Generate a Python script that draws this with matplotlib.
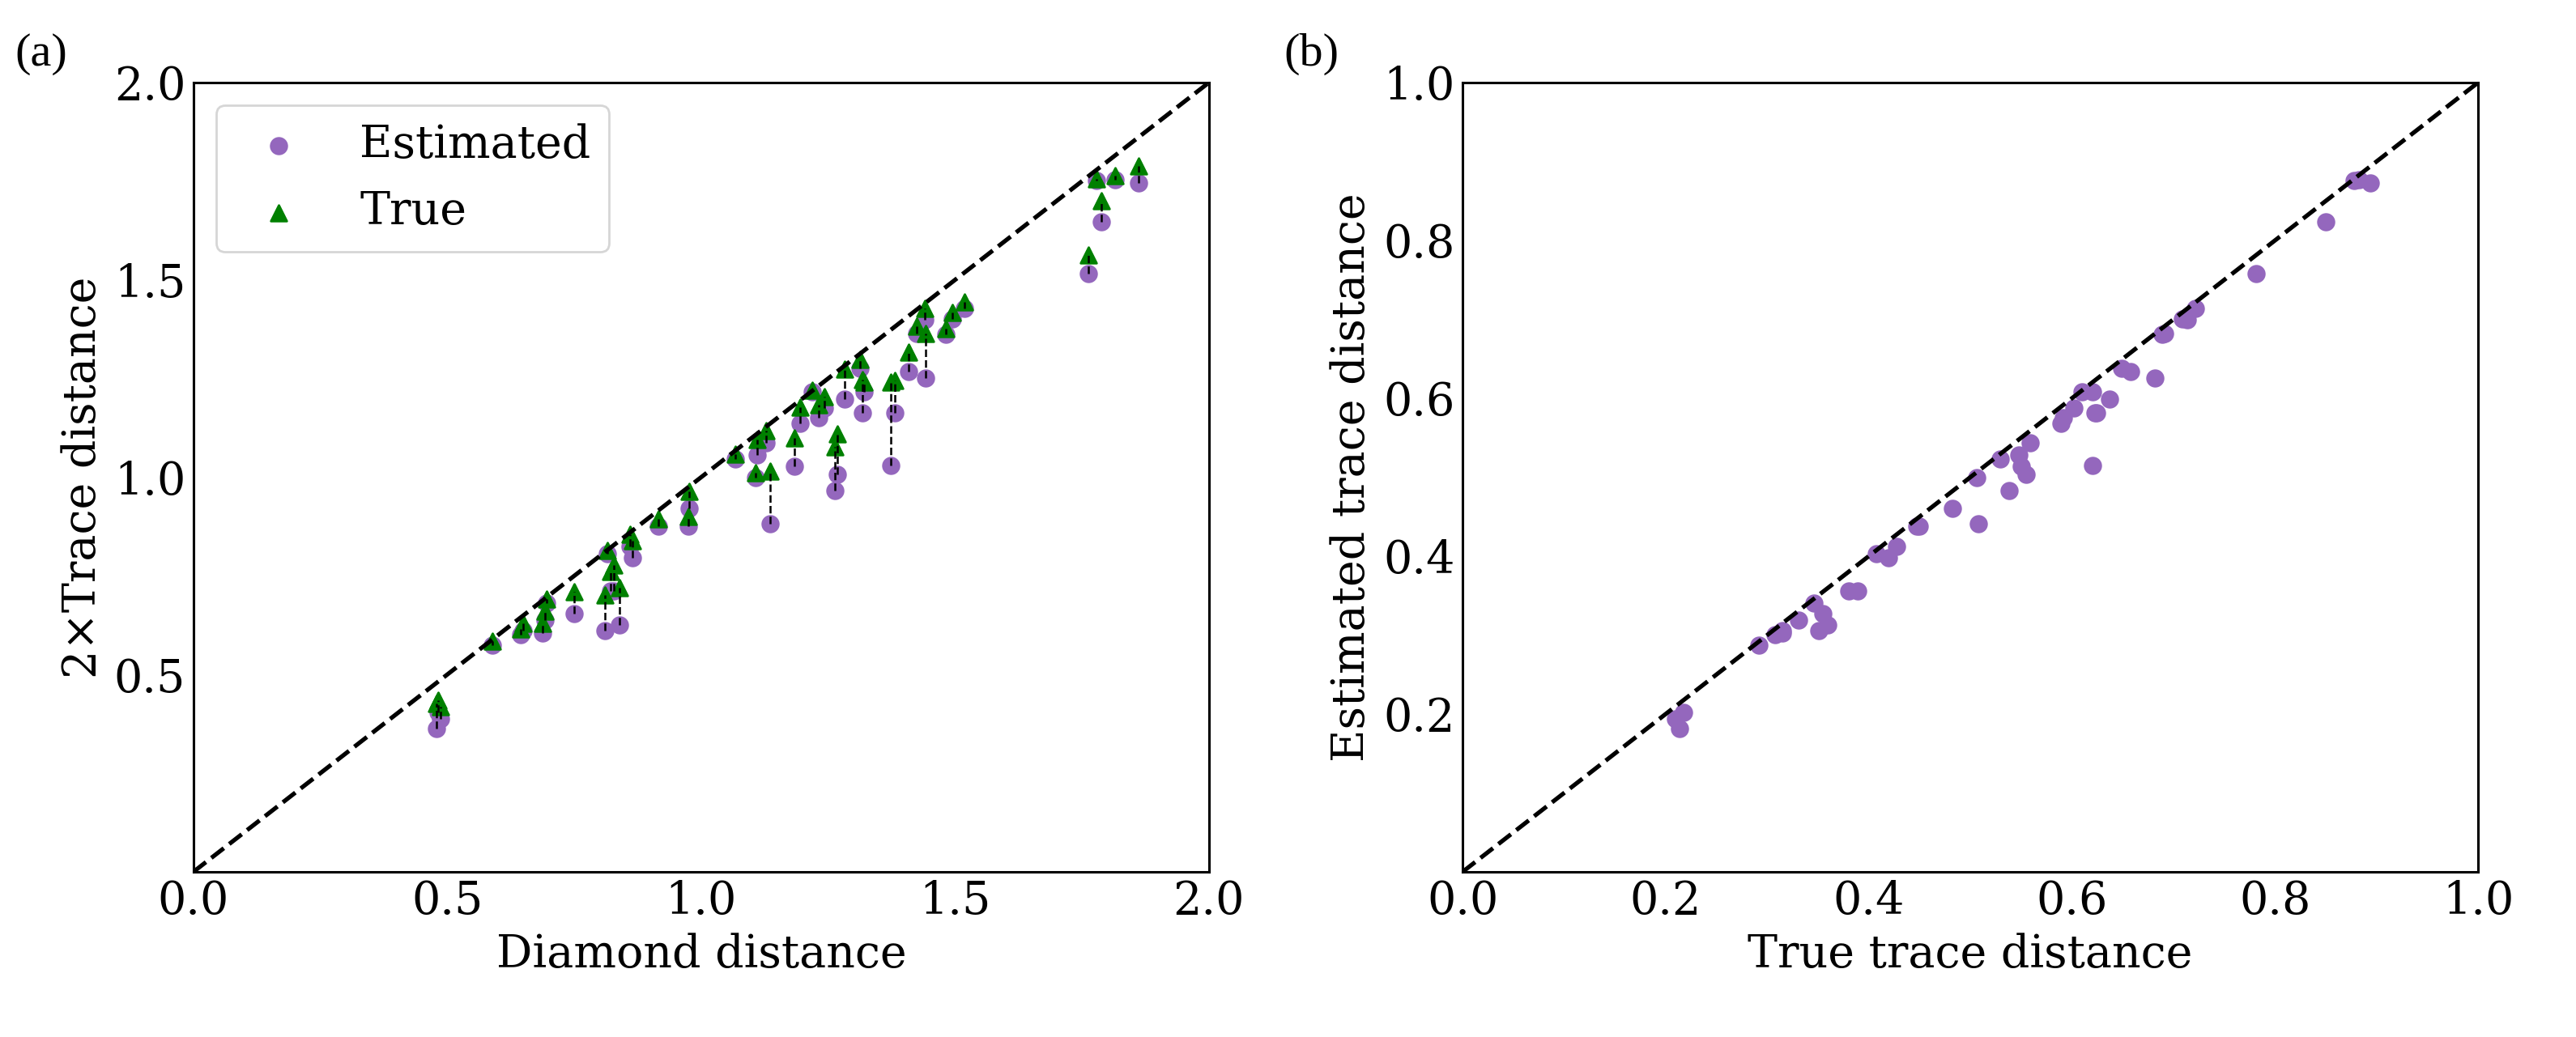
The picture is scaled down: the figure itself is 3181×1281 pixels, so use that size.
import matplotlib
matplotlib.use("Agg")
import matplotlib.pyplot as plt
import numpy as np

plt.rcParams["font.family"] = ["DejaVu Serif"]
plt.rcParams["font.size"] = 20

# diamond distance and 2x trace distance (true / estimated) per channel pair
diamond = [0.478, 0.482, 0.486, 0.589, 0.645, 0.650, 0.688, 0.692, 0.695, 0.750,
           0.811, 0.839, 0.822, 0.828, 0.815, 0.864, 0.860, 0.916, 0.974, 0.977,
           1.067, 1.110, 1.107, 1.128, 1.136, 1.184, 1.195, 1.219, 1.231, 1.242,
           1.264, 1.268, 1.282, 1.313, 1.317, 1.320, 1.374, 1.382, 1.409, 1.424,
           1.442, 1.440, 1.482, 1.495, 1.518, 1.763, 1.778, 1.788, 1.816, 1.862]
true2 = [0.427, 0.435, 0.419, 0.584, 0.616, 0.629, 0.630, 0.661, 0.692, 0.710,
         0.702, 0.719, 0.760, 0.778, 0.815, 0.838, 0.855, 0.895, 0.900, 0.965,
         1.058, 1.095, 1.012, 1.118, 1.015, 1.100, 1.178, 1.220, 1.183, 1.204,
         1.077, 1.110, 1.274, 1.298, 1.248, 1.240, 1.240, 1.245, 1.316, 1.382,
         1.364, 1.428, 1.377, 1.418, 1.443, 1.562, 1.756, 1.700, 1.765, 1.788]
est2 = [0.363, 0.404, 0.387, 0.575, 0.600, 0.612, 0.605, 0.638, 0.680, 0.655,
        0.612, 0.626, 0.711, 0.711, 0.807, 0.796, 0.825, 0.876, 0.876, 0.921,
        1.047, 1.057, 0.998, 1.087, 0.882, 1.028, 1.136, 1.216, 1.150, 1.176,
        0.967, 1.008, 1.197, 1.276, 1.164, 1.216, 1.030, 1.164, 1.268, 1.364,
        1.252, 1.399, 1.361, 1.401, 1.427, 1.515, 1.752, 1.647, 1.753, 1.745]

a_ticks_x = [0.0, 0.5, 1.0, 1.5, 2.0]
a_ticks_y = [0.5, 1.0, 1.5, 2.0]
b_ticks_x = [0.0, 0.2, 0.4, 0.6, 0.8, 1.0]
b_ticks_y = [0.2, 0.4, 0.6, 0.8, 1.0]

diamond = np.array(diamond)
true2 = np.array(true2)
est2 = np.array(est2)

fig = plt.figure(figsize=(15.905, 6.405), dpi=200)
ax1 = fig.add_axes([0.0751, 0.1593, 0.3942, 0.7611])
ax2 = fig.add_axes([0.5678, 0.1593, 0.3942, 0.7611])

# (a) diamond distance vs 2x trace distance
ax1.scatter(diamond, est2, s=50, color="tab:purple", label="Estimated")
ax1.scatter(diamond, true2, s=50, marker="^", color="green", label="True")
ax1.vlines(diamond, est2, true2, colors="k", linestyles="dashed", linewidth=0.9)
ax1.plot([0, 2], [0, 2], "k--", linewidth=1.9)
ax1.set_xlim(0, 2)
ax1.set_ylim(0, 2)
ax1.set_xticks(a_ticks_x)
ax1.set_yticks(a_ticks_y)
ax1.set_xlabel("Diamond distance")
ax1.set_ylabel("2×Trace distance")
ax1.legend(loc="upper left")

# (b) true vs estimated trace distance
ax2.scatter(true2 / 2, est2 / 2, s=50, color="tab:purple")
ax2.plot([0, 1], [0, 1], "k--", linewidth=1.9)
ax2.set_xlim(0, 1)
ax2.set_ylim(0, 1)
ax2.set_xticks(b_ticks_x)
ax2.set_yticks(b_ticks_y)
ax2.set_xlabel("True trace distance")
ax2.set_ylabel("Estimated trace distance")

for ax in (ax1, ax2):
    ax.tick_params(length=0)
    for sp in ax.spines.values():
        sp.set_linewidth(1.1)

fig.text(0.0057, 0.968, "(a)", family="Liberation Serif", fontsize=21, va="top")
fig.text(0.4983, 0.968, "(b)", family="Liberation Serif", fontsize=21, va="top")

fig.savefig("out.png", dpi=200)
